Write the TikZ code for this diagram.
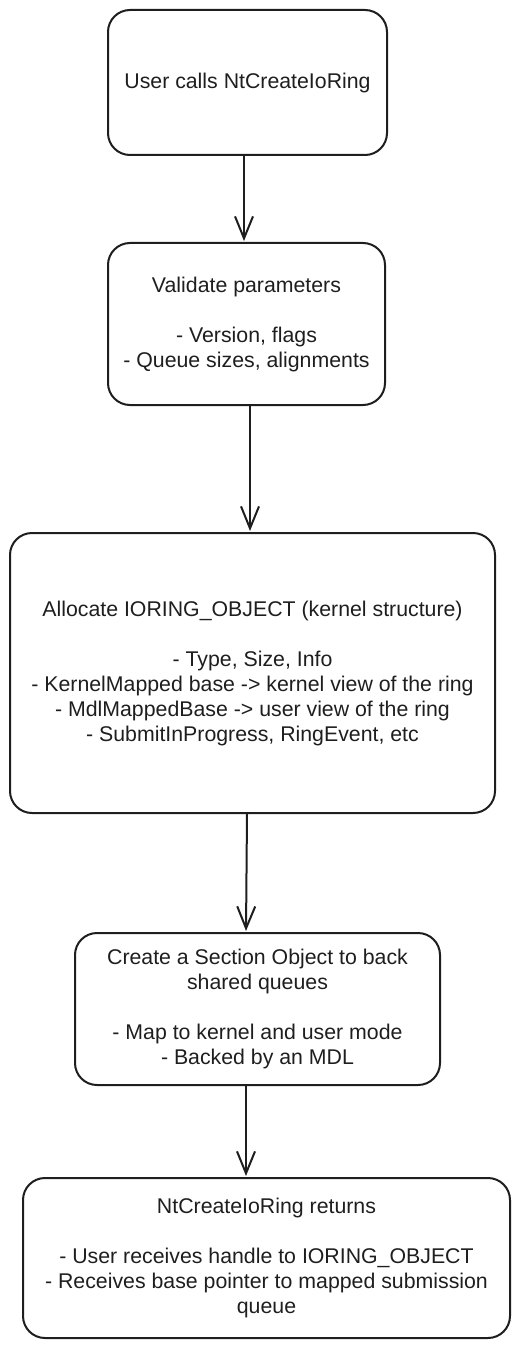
\documentclass[tikz,border=0pt]{standalone}
\usepackage{fontspec}
\setmainfont{Liberation Sans}
\usetikzlibrary{arrows.meta}
\definecolor{ink}{HTML}{1E1E1E}
\tikzset{
  stepbox/.style={draw=ink, line width=2pt, rounded corners=22pt, align=center,
    inner sep=0pt, text=ink, font=\fontsize{21.3}{25}\selectfont},
  arr/.style={draw=ink, line width=2pt,
    -{Straight Barb[length=22pt,width=18pt,line width=2pt]}, shorten >=1pt}
}
\begin{document}
\begin{tikzpicture}[x=1pt,y=-1pt]
\useasboundingbox (0,0) rectangle (520,1348);
\node[stepbox, minimum width=279pt, minimum height=145pt] (b1) at (247.5,82.5)
  {User calls NtCreateIoRing};
\node[stepbox, minimum width=277pt, minimum height=162pt] (b2) at (246.5,324)
  {Validate parameters\\[25pt]- Version, flags\\- Queue sizes, alignments};
\node[stepbox, minimum width=485pt, minimum height=280pt] (b3) at (252.5,673)
  {Allocate IORING\_OBJECT (kernel structure)\\[25pt]- Type, Size, Info\\- KernelMapped base -> kernel view of the ring\\- MdlMappedBase -> user view of the ring\\- SubmitInProgress, RingEvent, etc};
\node[stepbox, minimum width=365pt, minimum height=152pt] (b4) at (257.5,1009)
  {Create a Section Object to back\\shared queues\\[25pt]- Map to kernel and user mode\\- Backed by an MDL};
\node[stepbox, minimum width=487pt, minimum height=160pt] (b5) at (266.5,1258)
  {NtCreateIoRing returns\\[25pt]- User receives handle to IORING\_OBJECT\\- Receives base pointer to mapped submission\\queue};
\draw[arr] ([xshift=-3.5pt]b1.south) -- ([xshift=-2.5pt]b2.north);
\draw[arr] ([xshift=3.5pt]b2.south) -- ([xshift=-2.5pt]b3.north);
\draw[arr] ([xshift=-5.5pt]b3.south) -- ([xshift=-11.5pt]b4.north);
\draw[arr] ([xshift=-11.5pt]b4.south) -- ([xshift=-20.5pt]b5.north);
\end{tikzpicture}
\end{document}
